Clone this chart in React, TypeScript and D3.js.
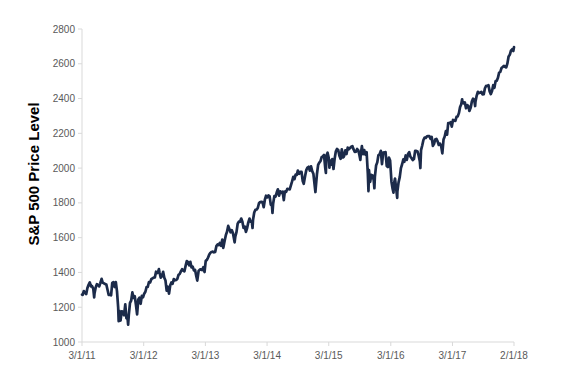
import React from "react";
import * as d3 from "d3";

// Weekly closes (plus a few intra-week extremes), S&P 500
const y2011: [string, number][] = [
  ["01-03", 1271.9], ["01-07", 1271.5], ["01-14", 1293.2], ["01-21", 1283.4], ["01-28", 1276.3],
  ["02-04", 1310.9], ["02-11", 1329.2], ["02-18", 1343.0], ["02-25", 1320.0], ["03-04", 1321.2],
  ["03-11", 1304.3], ["03-16", 1256.9], ["03-18", 1279.2], ["03-25", 1313.8], ["04-01", 1332.4],
  ["04-08", 1328.2], ["04-15", 1319.7], ["04-21", 1337.4], ["04-29", 1363.6], ["05-06", 1340.2],
  ["05-13", 1337.8], ["05-20", 1333.3], ["05-27", 1331.1], ["06-03", 1300.2], ["06-10", 1270.9],
  ["06-17", 1271.5], ["06-24", 1268.5], ["07-01", 1339.7], ["07-08", 1343.8], ["07-15", 1316.1],
  ["07-22", 1345.0], ["07-29", 1292.3], ["08-05", 1199.4], ["08-08", 1119.5], ["08-12", 1178.8],
  ["08-19", 1123.5], ["08-26", 1176.8], ["09-02", 1174.0], ["09-09", 1154.2], ["09-16", 1216.0],
  ["09-23", 1136.4], ["09-30", 1131.4], ["10-03", 1099.2], ["10-07", 1155.5], ["10-14", 1224.6],
  ["10-21", 1238.3], ["10-28", 1285.1], ["11-04", 1253.2], ["11-11", 1263.9], ["11-18", 1215.7],
  ["11-25", 1158.7], ["12-02", 1244.3], ["12-09", 1255.2], ["12-16", 1219.7], ["12-23", 1265.3],
  ["12-30", 1257.6],
];
const y2012: [string, number][] = [
  ["01-06", 1277.8], ["01-13", 1289.1], ["01-20", 1315.4], ["01-27", 1316.3], ["02-03", 1344.9],
  ["02-10", 1342.6], ["02-17", 1361.2], ["02-24", 1365.7], ["03-02", 1370.0], ["03-09", 1370.9],
  ["03-16", 1404.2], ["03-23", 1397.1], ["03-30", 1408.5], ["04-02", 1419.0], ["04-06", 1398.1],
  ["04-13", 1370.3], ["04-20", 1378.5], ["04-27", 1403.4], ["05-04", 1369.1], ["05-11", 1353.4],
  ["05-18", 1295.2], ["05-25", 1317.8], ["06-01", 1278.0], ["06-08", 1325.7], ["06-15", 1342.8],
  ["06-22", 1335.0], ["06-29", 1362.2], ["07-06", 1354.7], ["07-13", 1356.8], ["07-20", 1362.7],
  ["07-27", 1386.0], ["08-03", 1391.0], ["08-10", 1405.9], ["08-17", 1418.2], ["08-24", 1411.1],
  ["08-31", 1406.6], ["09-07", 1437.9], ["09-14", 1465.8], ["09-21", 1460.2], ["09-28", 1440.7],
  ["10-05", 1460.9], ["10-12", 1428.6], ["10-19", 1433.2], ["10-26", 1411.9], ["11-02", 1414.2],
  ["11-09", 1379.9], ["11-15", 1353.3], ["11-16", 1359.9], ["11-23", 1409.2], ["11-30", 1416.2],
  ["12-07", 1418.1], ["12-14", 1413.6], ["12-21", 1430.2], ["12-28", 1402.4],
];
const y2013: [string, number][] = [
  ["01-04", 1466.5], ["01-11", 1472.1], ["01-18", 1486.0], ["01-25", 1503.0], ["02-01", 1513.2],
  ["02-08", 1517.9], ["02-15", 1519.8], ["02-22", 1515.6], ["03-01", 1518.2], ["03-08", 1551.2],
  ["03-15", 1560.7], ["03-22", 1556.9], ["03-28", 1569.2], ["04-05", 1553.3], ["04-12", 1588.9],
  ["04-18", 1541.6], ["04-26", 1582.2], ["05-03", 1614.4], ["05-10", 1633.7], ["05-17", 1667.5],
  ["05-24", 1649.6], ["05-31", 1630.7], ["06-07", 1643.4], ["06-14", 1626.7], ["06-24", 1573.1],
  ["06-28", 1606.3], ["07-05", 1631.9], ["07-12", 1680.2], ["07-19", 1692.1], ["07-26", 1691.7],
  ["08-02", 1709.7], ["08-09", 1691.4], ["08-16", 1655.8], ["08-23", 1663.5], ["08-30", 1633.0],
  ["09-06", 1655.2], ["09-13", 1688.0], ["09-20", 1709.9], ["09-27", 1691.8], ["10-04", 1690.5],
  ["10-08", 1655.5], ["10-11", 1703.2], ["10-18", 1744.5], ["10-25", 1759.8], ["11-01", 1761.6],
  ["11-08", 1770.6], ["11-15", 1798.2], ["11-22", 1804.8], ["11-29", 1805.8], ["12-06", 1805.1],
  ["12-13", 1775.3], ["12-20", 1818.3], ["12-27", 1841.4],
];
const y2014: [string, number][] = [
  ["01-03", 1831.4], ["01-10", 1842.4], ["01-17", 1838.7], ["01-24", 1790.3], ["01-31", 1782.6],
  ["02-03", 1741.9], ["02-07", 1797.0], ["02-14", 1838.6], ["02-21", 1836.3], ["02-28", 1859.5],
  ["03-07", 1878.0], ["03-14", 1841.1], ["03-21", 1866.5], ["03-28", 1857.6], ["04-04", 1865.1],
  ["04-11", 1815.7], ["04-17", 1864.9], ["04-25", 1863.4], ["05-02", 1881.1], ["05-09", 1878.5],
  ["05-16", 1877.9], ["05-23", 1900.5], ["05-30", 1923.6], ["06-06", 1949.4], ["06-13", 1936.2],
  ["06-20", 1962.9], ["06-27", 1961.0], ["07-03", 1985.4], ["07-11", 1967.6], ["07-18", 1978.2],
  ["07-25", 1978.3], ["08-01", 1925.2], ["08-07", 1909.6], ["08-15", 1955.1], ["08-22", 1988.4],
  ["08-29", 2003.4], ["09-05", 2007.7], ["09-12", 1985.5], ["09-19", 2010.4], ["09-26", 1982.9],
  ["10-03", 1967.9], ["10-10", 1906.1], ["10-15", 1862.5], ["10-17", 1886.8], ["10-24", 1964.6],
  ["10-31", 2018.1], ["11-07", 2031.9], ["11-14", 2039.8], ["11-21", 2063.5], ["11-28", 2067.6],
  ["12-05", 2075.4], ["12-12", 2002.3], ["12-16", 1972.7], ["12-19", 2070.7], ["12-26", 2088.8],
];
const y2015: [string, number][] = [
  ["01-02", 2058.2], ["01-06", 2002.6], ["01-09", 2044.8], ["01-16", 2019.4], ["01-23", 2051.8],
  ["01-30", 1995.0], ["02-06", 2055.5], ["02-13", 2097.0], ["02-20", 2110.3], ["02-27", 2104.5],
  ["03-06", 2071.3], ["03-13", 2053.4], ["03-20", 2108.1], ["03-27", 2061.0], ["04-02", 2067.0],
  ["04-10", 2102.1], ["04-17", 2081.2], ["04-24", 2117.7], ["05-01", 2108.3], ["05-08", 2116.1],
  ["05-15", 2122.7], ["05-22", 2126.1], ["05-29", 2107.4], ["06-05", 2092.8], ["06-12", 2094.1],
  ["06-19", 2110.0], ["06-26", 2101.5], ["07-02", 2076.8], ["07-08", 2046.7], ["07-10", 2076.6],
  ["07-17", 2126.6], ["07-24", 2079.7], ["07-31", 2103.8], ["08-07", 2077.6], ["08-14", 2091.5],
  ["08-21", 1970.9], ["08-25", 1867.6], ["08-28", 1988.9], ["09-04", 1921.2], ["09-11", 1961.1],
  ["09-18", 1958.0], ["09-25", 1931.3], ["09-29", 1884.1], ["10-02", 1951.4], ["10-09", 2014.9],
  ["10-16", 2033.1], ["10-23", 2075.2], ["10-30", 2079.4], ["11-06", 2099.2], ["11-13", 2023.0],
  ["11-20", 2089.2], ["11-27", 2090.1], ["12-04", 2091.7], ["12-11", 2012.4], ["12-18", 2005.6],
  ["12-24", 2061.0], ["12-31", 2043.9],
];
const y2016: [string, number][] = [
  ["01-08", 1922.0], ["01-15", 1880.3], ["01-20", 1859.3], ["01-22", 1906.9], ["01-29", 1940.2],
  ["02-05", 1880.1], ["02-11", 1829.1], ["02-12", 1864.8], ["02-19", 1917.8], ["02-26", 1948.1],
  ["03-04", 2000.0], ["03-11", 2022.2], ["03-18", 2049.6], ["03-24", 2035.9], ["04-01", 2072.8],
  ["04-08", 2047.6], ["04-15", 2080.7], ["04-22", 2091.6], ["04-29", 2065.3], ["05-06", 2057.1],
  ["05-13", 2046.6], ["05-20", 2052.3], ["05-27", 2099.1], ["06-03", 2099.1], ["06-10", 2096.1],
  ["06-17", 2071.2], ["06-24", 2037.4], ["06-27", 2000.5], ["07-01", 2103.0], ["07-08", 2129.9],
  ["07-15", 2161.7], ["07-22", 2175.0], ["07-29", 2173.6], ["08-05", 2182.9], ["08-12", 2184.1],
  ["08-19", 2183.9], ["08-26", 2169.0], ["09-02", 2180.0], ["09-09", 2127.8], ["09-16", 2139.2],
  ["09-23", 2164.7], ["09-30", 2168.3], ["10-07", 2153.7], ["10-14", 2133.0], ["10-21", 2141.2],
  ["10-28", 2126.4], ["11-04", 2085.2], ["11-11", 2164.5], ["11-18", 2181.9], ["11-25", 2213.4],
  ["12-02", 2192.0], ["12-09", 2259.5], ["12-16", 2258.1], ["12-23", 2263.8], ["12-30", 2238.8],
];
const y2017: [string, number][] = [
  ["01-06", 2277.0], ["01-13", 2274.6], ["01-20", 2271.3], ["01-27", 2294.7], ["02-03", 2297.4],
  ["02-10", 2316.1], ["02-17", 2351.2], ["02-24", 2367.3], ["03-01", 2395.9], ["03-03", 2383.1],
  ["03-10", 2372.6], ["03-17", 2378.3], ["03-24", 2344.0], ["03-31", 2362.7], ["04-07", 2355.5],
  ["04-13", 2329.0], ["04-21", 2348.7], ["04-28", 2384.2], ["05-05", 2399.3], ["05-12", 2390.9],
  ["05-17", 2357.0], ["05-19", 2381.7], ["05-26", 2415.8], ["06-02", 2439.1], ["06-09", 2431.8],
  ["06-16", 2433.2], ["06-23", 2438.3], ["06-30", 2423.4], ["07-07", 2425.2], ["07-14", 2459.3],
  ["07-21", 2472.5], ["07-28", 2472.1], ["08-04", 2476.8], ["08-11", 2441.3], ["08-18", 2425.6],
  ["08-25", 2443.1], ["09-01", 2476.6], ["09-08", 2461.4], ["09-15", 2500.2], ["09-22", 2502.2],
  ["09-29", 2519.4], ["10-06", 2549.3], ["10-13", 2553.2], ["10-20", 2575.2], ["10-27", 2581.1],
  ["11-03", 2587.8], ["11-10", 2582.3], ["11-17", 2578.9], ["11-24", 2602.4], ["12-01", 2642.2],
  ["12-08", 2651.5], ["12-15", 2675.8], ["12-22", 2683.3], ["12-29", 2673.6],
];
const y2018: [string, number][] = [["01-02", 2695.8]];

const seriesByYear: [number, [string, number][]][] = [
  [2011, y2011], [2012, y2012], [2013, y2013], [2014, y2014],
  [2015, y2015], [2016, y2016], [2017, y2017], [2018, y2018],
];

const xTickDates = ["2011-01-03", "2012-01-03", "2013-01-02", "2014-01-02", "2015-01-02", "2016-01-04", "2017-01-03", "2018-01-02"];
const xTickLabels = ["3/1/11", "3/1/12", "3/1/13", "3/1/14", "3/1/15", "3/1/16", "3/1/17", "2/1/18"];
const yTicks = [1000, 1200, 1400, 1600, 1800, 2000, 2200, 2400, 2600, 2800];
const yLabel = "S&P 500 Price Level";

export default function App() {
  const W = 583, H = 377;
  const parse = d3.timeParse("%Y-%m-%d");
  const data = seriesByYear.flatMap(([yr, arr]) =>
    arr.map(([md, v]) => ({ date: parse(`${yr}-${md}`)!, value: v }))
  );
  const tickDates = xTickDates.map((s) => parse(s)!);

  const x = d3.scaleTime()
    .domain([tickDates[0], tickDates[tickDates.length - 1]])
    .range([82, 514]);
  const y = d3.scaleLinear().domain([1000, 2800]).range([342, 29]);

  const line = d3.line<{ date: Date; value: number }>()
    .x((d) => x(d.date))
    .y((d) => y(d.value));

  const axisColor = "#d9d9d9";
  const textColor = "#595959";
  const font = "'Liberation Sans', Arial, sans-serif";

  return (
    <svg width={W} height={H} style={{ position: "absolute", left: 0, top: 0, background: "#fff" }}
      fontFamily={font}>
      {/* y axis */}
      <line x1={82} x2={82} y1={y(2800)} y2={y(1000)} stroke={axisColor} strokeWidth={1} />
      {yTicks.map((t) => (
        <g key={t}>
          <line x1={78} x2={82} y1={y(t)} y2={y(t)} stroke={axisColor} />
          <text x={75} y={y(t)} dy="0.35em" textAnchor="end" fontSize={10} fill={textColor}>{t}</text>
        </g>
      ))}
      {/* x axis */}
      <line x1={82} x2={514} y1={y(1000)} y2={y(1000)} stroke={axisColor} strokeWidth={1} />
      {tickDates.map((d, i) => (
        <g key={i}>
          <line x1={x(d)} x2={x(d)} y1={y(1000)} y2={y(1000) + 4} stroke={axisColor} />
          <text x={x(d)} y={359} textAnchor="middle" fontSize={10} fill={textColor}>{xTickLabels[i]}</text>
        </g>
      ))}
      {/* y label */}
      <text transform="translate(38.5,174) rotate(-90)" textAnchor="middle" fontSize={15}
        fontWeight="bold" fill="#000">{yLabel}</text>
      {/* series */}
      <path d={line(data) || ""} fill="none" stroke="#1c2b4a" strokeWidth={2.7}
        strokeLinejoin="round" strokeLinecap="round" />
    </svg>
  );
}
